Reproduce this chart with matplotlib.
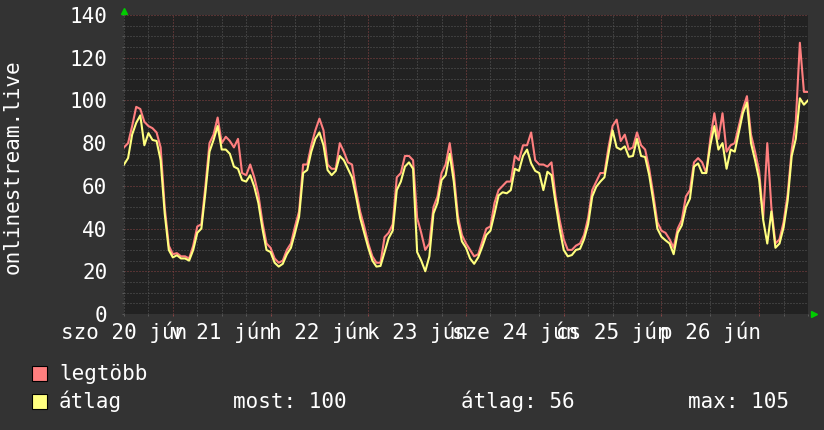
"""Weekly RRD-style graph for onlinestream.live (dark theme)."""

import matplotlib

matplotlib.use("Agg")
import matplotlib.pyplot as plt
import matplotlib.transforms as mtransforms
from matplotlib.patches import Rectangle
import numpy as np


W, H = 824, 430

# hourly samples, hour 0 = noon on Sat 20 June
avg_values = [
    70, 73, 84, 89.5, 93, 79, 84.7, 81.5, 81, 72,
    47, 30, 26.5, 27.5, 26, 26, 25, 30, 38, 40,
    57, 76, 81.5, 88, 77, 77, 75, 69, 68, 62.7,
    62, 65, 59.6, 52, 40, 30, 29, 24, 22.2, 23.5,
    28, 31, 38, 45.5, 66, 67.4, 76, 82, 85, 79,
    67.4, 65, 67, 74, 72, 68, 64, 55, 45, 38,
    31, 25, 22.2, 22.5, 29, 35.5, 39, 58, 62, 69,
    71, 68, 29, 25, 20, 27, 47, 52, 62.7, 65,
    75, 62, 43, 34, 31, 26, 23.5, 26.5, 31.5, 37,
    39, 47, 55.5, 57, 56.5, 58, 68, 67, 74, 77,
    70.5, 67, 66, 58, 66.6, 65, 52, 40, 30, 27,
    27.6, 30, 30.5, 35, 42, 55, 59.6, 62, 64, 75,
    86, 78, 77, 78.5, 73.6, 74, 82, 74, 73.5, 65,
    53, 40, 36.2, 34.5, 33, 28, 38, 41.5, 50, 54,
    69, 70.5, 66, 66, 79, 88, 77, 80, 68, 77,
    76, 85, 94, 99, 80, 72, 63, 44, 33, 48,
    31, 33, 40.5, 53, 74, 82, 101, 98, 100,
]
max_values = [
    78, 80, 88, 97, 96, 90, 88, 87, 85, 78,
    50, 32, 28, 28.5, 27, 27, 26, 32, 41, 42,
    60, 80, 84, 92, 80, 83, 81, 78, 82, 66,
    65, 70, 64, 56, 43, 33, 31, 26, 24, 25,
    30, 33, 41, 48, 70, 70, 79, 86, 91.5, 86,
    70, 68, 68, 80, 76, 71, 70, 58, 48, 41,
    33, 27, 24, 24, 36, 38, 42, 64, 66, 74,
    74, 72, 45, 38, 30, 33, 50, 55, 66, 70,
    80, 66, 46, 37, 33, 30, 27, 28, 34, 40,
    41, 52, 58, 60, 62, 62, 74, 72, 79, 79,
    85, 72, 70, 70, 69, 71, 55, 44, 35, 30,
    30, 32, 33, 37, 45, 58, 62, 66, 66, 78,
    88, 91, 81, 84, 77, 78, 85, 79, 77, 68,
    56, 43, 39, 38, 35, 31, 40, 44, 55, 58,
    71, 73, 71, 66, 82, 94, 82, 94, 76, 79,
    80, 88, 96, 102, 84, 76, 67, 45, 80, 50,
    33, 35, 43, 56, 77, 90, 127, 104, 104,
]
label_hours = [0, 24, 48, 72, 96, 120, 144]
day_labels = ["szo 20 jún", "v 21 jún", "h 22 jún", "k 23 jún",
              "sze 24 jún", "cs 25 jún", "p 26 jún"]
series_names = ["legtöbb", "átlag"]
stats_text = ["most: 100", "átlag: 56", "max: 105"]

BG = "#333333"
CANVAS = "#222222"
RED = "#ff7f7f"
YELLOW = "#ffff7f"
MINOR_GRID = "#5a5a5a"
MAJOR_GRID = "#8a4444"
ARROW = "#00cc00"
DOTS = (0, (1, 2))

plt.rcParams["font.family"] = ["DejaVu Sans Mono"]


def px(x, y):
    return x / W, 1 - y / H


fig = plt.figure(figsize=(W / 100, H / 100), dpi=100, facecolor=BG)
ax = fig.add_axes([124 / W, 116 / H, 684 / W, 299 / H])
ax.set_facecolor(CANVAS)

hours = np.arange(len(avg_values))
ax.plot(hours, max_values, color=RED, lw=1.5, zorder=3)
ax.plot(hours, avg_values, color=YELLOW, lw=1.5, zorder=4)

ax.set_xlim(0, 168)
ax.set_ylim(0, 140)
ax.set_yticks(np.arange(0, 141, 20))
ax.set_yticks(np.arange(0, 141, 5), minor=True)
ax.set_xticks(np.arange(12, 168, 24))
ax.set_xticks(np.arange(0, 169, 6), minor=True)
ax.set_xticklabels([])
ax.set_axisbelow(True)
ax.grid(which="minor", color=MINOR_GRID, ls=DOTS, lw=0.72)
ax.grid(which="major", color=MAJOR_GRID, ls=DOTS, lw=0.72)
for spine in ax.spines.values():
    spine.set_visible(False)

ax.tick_params(axis="y", which="both", direction="out", length=1.5, width=0.72,
               color=MINOR_GRID, labelcolor="white", labelsize=15, pad=10.5)
ax.tick_params(axis="x", which="minor", direction="out", length=1.5, width=0.72, color=MINOR_GRID)
ax.tick_params(axis="x", which="major", direction="out", length=1.5, width=0.72, color=MAJOR_GRID)

trans = mtransforms.blended_transform_factory(ax.transData, ax.transAxes)
for hour, label in zip(label_hours, day_labels):
    ax.text(hour, -25.3 / 299, label, transform=trans, ha="center", va="baseline",
            color="white", fontsize=15)

# axis arrows
up = mtransforms.offset_copy(ax.transAxes, fig=fig, x=0, y=4, units="dots")
ax.plot([0], [1], marker="^", color=ARROW, ms=4.5, transform=up, clip_on=False)
right = mtransforms.offset_copy(ax.transAxes, fig=fig, x=6, y=0, units="dots")
ax.plot([1], [0], marker=">", color=ARROW, ms=4.5, transform=right, clip_on=False)

fig.text(*px(13, 166.5), "onlinestream.live", rotation=90, ha="center", va="center",
         color="white", fontsize=15)

# legend
for (color, y_top, y_base), name in zip([(RED, 366, 380), (YELLOW, 394, 408)], series_names):
    x0, y0 = px(32, y_top + 15)
    fig.add_artist(Rectangle((x0, y0), 15 / W, 15 / H, transform=fig.transFigure,
                             facecolor=color, edgecolor="black", lw=0.8))
    fig.text(*px(59, y_base), name, ha="left", va="baseline", color="white", fontsize=15)

for x, text in zip([233, 461, 688], stats_text):
    fig.text(*px(x, 408), text, ha="left", va="baseline", color="white", fontsize=15)

fig.savefig("out.png", dpi=100, facecolor=fig.get_facecolor())
